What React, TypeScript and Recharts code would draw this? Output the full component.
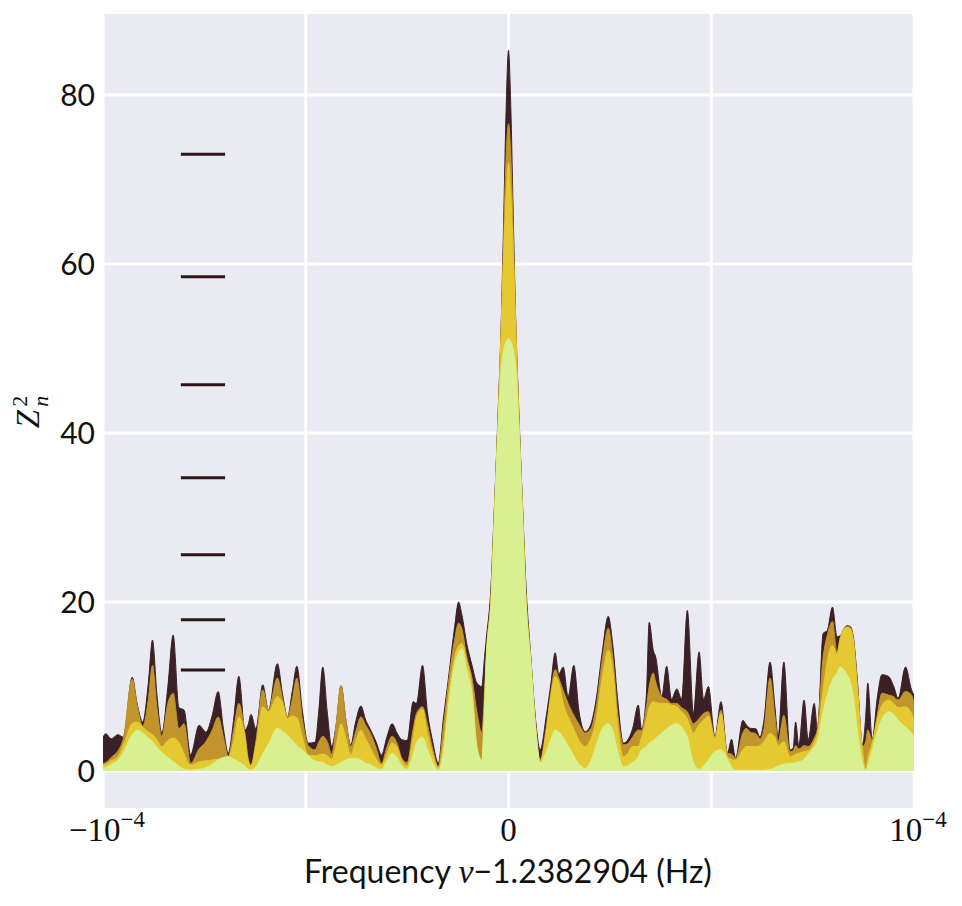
import React from "react";
import {
    AreaChart,
    Area,
    XAxis,
    YAxis,
    CartesianGrid,
    ReferenceLine,
} from "recharts";

// frequency offset from 1.2382904 Hz, in units of 1e-6 Hz
const freq = [
    -100, -99.3, -98.0, -96.3, -95.0, -92.8, -91.6, -90.2, -88.8, -87.8, -86.7, -85.5, -84.0, -82.7, -81.3,
    -80.0, -78.4, -76.3, -74.6, -73.1, -71.6, -70.3, -69.1, -67.8, -66.5, -65.0, -64.2, -63.5, -62.3, -60.6,
    -59.2, -57.0, -55.7, -54.5, -53.3, -52.2, -50.8, -49.4, -47.7, -46.8, -45.8, -44.7, -43.6, -42.5, -41.3,
    -40.1, -38.9, -37.7, -36.4, -35.2, -34.2, -32.7, -31.3, -30.0, -28.7, -27.5, -26.3, -25.0, -23.5, -22.7,
    -21.2, -20.0, -18.7, -17.3, -16.1, -14.6, -13.3, -12.3, -11.5, -10.3, -9.0, -7.8, -6.6, -5.9, -5.5,
    -4.3, -3.5, -2.6, -1.8, -1.2, -0.6, 0, 0.6, 1.2, 1.8, 2.6, 3.5, 4.3, 5.5, 6.6,
    7.8, 9.4, 10.5, 11.5, 12.4, 13.5, 14.7, 16.1, 17.4, 18.9, 20.3, 21.6, 23.1, 24.6, 25.7,
    27.0, 28.3, 29.3, 30.6, 32.0, 32.8, 34.0, 34.7, 35.7, 36.3, 37.8, 39.0, 40.2, 41.5, 42.7,
    44.1, 45.6, 47.0, 48.1, 49.3, 50.9, 52.4, 54.0, 55.0, 56.0, 57.8, 58.6, 59.6, 61.0, 62.0,
    63.0, 64.5, 65.7, 66.5, 67.9, 69.4, 70.2, 70.8, 71.6, 72.9, 73.9, 75.4, 76.2, 77.6, 78.6,
    79.9, 81.0, 81.8, 83.4, 84.3, 85.0, 86.0, 87.3, 88.1, 88.6, 89.7, 90.9, 92.1, 93.7, 95.0,
    96.1, 97.9, 99.4, 100,
];

// Z^2_n for n = 4 (dark), 3, 2, 1 (light)
const z4 = [
    4.0, 4.4, 3.8, 4.3, 4.0, 11.1, 8.0, 5.8, 10.5, 15.5, 9.0, 4.5, 10.0, 16.1, 7.5,
    7.2, 1.9, 5.4, 4.6, 6.5, 9.4, 5.0, 2.1, 6.0, 11.2, 4.85, 5.5, 6.7, 5.0, 10.2,
    7.2, 12.7, 9.0, 6.4, 9.5, 12.4, 7.0, 3.3, 3.4, 7.0, 12.3, 7.0, 2.9, 5.5, 10.1,
    6.0, 3.1, 5.8, 7.7, 6.0, 5.05, 3.5, 1.9, 4.0, 5.6, 4.5, 3.7, 3.6, 8.2, 8.0,
    12.5, 7.0, 3.5, 0.9, 6.0, 11.8, 17.0, 20.0, 18.5, 15.1, 12.5, 10.4, 10.0, 13.5, 15.5,
    22.0, 31.0, 42.0, 53.0, 65.0, 78.0, 85.3, 78.0, 65.0, 53.0, 42.0, 31.0, 22.0, 13.5, 6.5,
    2.5, 6.8, 10.5, 14.0, 11.5, 12.3, 8.8, 12.5, 7.0, 4.65, 5.5, 8.4, 14.0, 18.3, 15.0,
    8.0, 3.3, 3.6, 5.0, 7.8, 5.0, 9.0, 17.6, 14.3, 13.5, 8.8, 12.4, 8.5, 9.7, 8.5,
    19.0, 6.8, 14.1, 8.5, 10.0, 4.05, 8.2, 2.1, 3.75, 1.5, 6.0, 5.5, 5.05, 5.0, 4.0,
    6.0, 12.9, 7.6, 4.05, 12.9, 2.5, 2.7, 5.8, 3.0, 8.4, 3.7, 8.0, 5.0, 16.3, 16.6,
    19.4, 15.9, 16.0, 17.2, 17.1, 16.0, 11.0, 3.1, 6.5, 10.4, 3.7, 8.5, 11.4, 11.2, 10.0,
    8.6, 12.3, 9.6, 9.0,
];

const z3 = [
    0.9, 1.0, 1.6, 2.4, 3.8, 10.9, 7.8, 5.3, 8.5, 12.5, 7.5, 4.1, 8.0, 9.2, 5.0,
    5.6, 0.9, 2.6, 3.5, 4.8, 6.4, 4.0, 1.7, 4.8, 8.0, 4.5, 1.5, 0.7, 3.5, 9.6,
    7.2, 11.0, 8.5, 6.4, 8.5, 11.0, 6.0, 3.0, 2.5, 3.4, 4.1, 3.5, 2.0, 5.5, 10.1,
    6.0, 2.9, 4.6, 6.4, 5.4, 4.6, 2.8, 0.9, 2.8, 4.1, 3.3, 1.5, 1.0, 5.0, 6.8,
    7.6, 5.5, 2.6, 0.5, 5.0, 11.2, 15.5, 17.5, 16.8, 13.5, 11.0, 7.0, 4.5, 9.5, 13.5,
    21.0, 30.5, 41.5, 52.5, 63.0, 72.5, 76.6, 72.5, 63.0, 52.5, 41.5, 30.5, 21.0, 13.2, 6.0,
    1.3, 5.5, 9.5, 12.0, 11.0, 9.5, 8.0, 6.6, 5.5, 4.5, 5.0, 7.5, 13.0, 16.9, 13.5,
    6.5, 3.1, 3.2, 4.0, 4.85, 4.8, 7.5, 10.0, 11.6, 10.5, 8.8, 8.5, 8.0, 8.0, 7.5,
    7.0, 5.6, 6.2, 6.8, 7.0, 4.05, 7.2, 2.1, 2.0, 1.5, 4.5, 5.05, 4.6, 4.4, 3.8,
    5.0, 11.0, 6.4, 3.5, 6.6, 2.3, 2.4, 3.0, 2.6, 3.0, 2.9, 3.9, 5.0, 13.5, 16.0,
    17.7, 14.0, 15.8, 17.1, 17.0, 15.8, 10.5, 2.9, 3.5, 4.85, 3.6, 6.5, 9.2, 9.0, 8.8,
    8.4, 9.4, 9.0, 8.0,
];

const z2 = [
    0.7, 0.8, 1.2, 1.7, 3.0, 5.6, 5.8, 5.2, 4.6, 4.3, 3.7, 2.9, 3.6, 3.9, 3.4,
    2.0, 0.7, 1.1, 1.2, 1.3, 1.4, 1.5, 1.6, 3.5, 6.4, 4.0, 1.2, 0.6, 3.0, 7.6,
    7.0, 8.8, 8.0, 6.2, 6.5, 6.3, 4.0, 1.9, 1.8, 1.9, 2.0, 1.8, 1.4, 3.0, 5.6,
    3.8, 1.9, 3.5, 4.85, 3.8, 2.9, 1.5, 0.7, 2.0, 3.3, 2.8, 1.2, 0.6, 4.0, 6.3,
    7.3, 4.5, 2.0, 0.4, 3.0, 9.6, 13.5, 14.8, 15.1, 13.0, 10.0, 3.0, 1.3, 8.0, 13.2,
    20.5, 30.2, 41.0, 52.0, 61.0, 68.0, 72.0, 68.0, 61.0, 52.0, 41.0, 30.2, 20.5, 13.0, 5.7,
    1.1, 5.0, 9.0, 11.2, 10.5, 8.0, 6.4, 5.0, 3.6, 2.9, 3.8, 6.0, 11.0, 14.3, 12.0,
    5.0, 1.7, 2.0, 2.9, 2.9, 4.0, 6.0, 7.5, 8.2, 8.1, 8.0, 8.0, 7.8, 7.6, 7.0,
    6.2, 4.5, 5.5, 6.0, 6.5, 3.8, 6.8, 1.7, 1.4, 1.3, 2.5, 2.9, 2.9, 2.9, 3.0,
    3.5, 4.45, 4.0, 3.0, 3.5, 1.7, 1.8, 2.0, 2.1, 2.3, 2.4, 3.4, 4.5, 9.6, 13.0,
    14.9, 13.8, 15.6, 17.0, 16.8, 15.5, 10.0, 2.4, 0.2, 1.5, 3.3, 6.0, 7.8, 8.4, 8.0,
    7.5, 7.6, 6.8, 6.0,
];

const z1 = [
    0.3, 0.4, 0.8, 1.3, 2.2, 4.3, 4.85, 4.5, 3.9, 3.5, 2.8, 2.2, 1.6, 1.1, 0.6,
    0.2, 0.1, 0.2, 0.4, 0.8, 1.3, 1.6, 1.7, 1.4, 1.1, 0.6, 0.2, 0.1, 0.5, 2.0,
    3.2, 5.05, 4.7, 4.2, 3.6, 3.0, 2.5, 1.8, 1.2, 1.1, 1.0, 0.7, 0.5, 0.7, 1.0,
    1.3, 1.5, 1.5, 1.3, 0.9, 0.8, 0.4, 0.2, 1.2, 2.1, 1.6, 0.6, 0.2, 2.0, 3.3,
    4.0, 2.6, 1.0, 0.1, 2.0, 8.4, 12.5, 14.0, 14.5, 12.0, 9.0, 2.8, 1.2, 7.5, 12.8,
    19.9, 29.5, 40.4, 47.5, 49.8, 50.8, 51.2, 50.8, 49.8, 47.5, 40.4, 29.5, 19.9, 12.8, 5.5,
    1.0, 2.4, 3.8, 4.85, 4.6, 4.0, 3.0, 1.8, 0.8, 0.3, 1.2, 3.0, 5.0, 5.6, 4.8,
    2.2, 0.5, 0.6, 1.0, 1.7, 2.5, 2.9, 3.3, 3.6, 3.9, 4.5, 5.0, 5.4, 5.6, 5.2,
    4.0, 1.0, 0.2, 0.6, 1.3, 2.3, 2.5, 1.4, 0.5, 0.1, 0.1, 0.1, 0.1, 0.1, 0.1,
    0.1, 0.2, 0.4, 0.6, 0.8, 0.9, 0.9, 1.0, 1.1, 1.4, 2.0, 2.9, 3.5, 7.0, 9.0,
    10.8, 11.6, 12.3, 11.5, 10.5, 9.0, 5.0, 1.0, 0.1, 0.6, 2.5, 4.5, 6.2, 7.0, 6.7,
    6.0, 5.2, 4.5, 4.1,
];

// detection levels drawn as short bars on the left
const levels = [73.0, 58.5, 45.7, 34.7, 25.6, 17.9, 11.95];
const levelFrom = -80.8;
const levelTo = -69.9;

const xTicks = [-100, -50, 0, 50, 100];
const yTicks = [0, 20, 40, 60, 80];

const data = freq.map((f, i) => ({ f, z4: z4[i], z3: z3[i], z2: z2[i], z1: z1[i] }));

const colors = {
    z4: "#3b2026",
    z3: "#c1952b",
    z2: "#e4c931",
    z1: "#d8f08f",
};

const sans = "Lato, 'DejaVu Sans', sans-serif";
const serif = "'Liberation Serif', 'DejaVu Serif', serif";

const YTick = (props: any) => {
    const { x, y, payload } = props;
    return (
        <text x={x - 8} y={y + 11} textAnchor="end" fontFamily={sans} fontSize={30} fill="#111">
            {payload.value}
        </text>
    );
};

const XTick = (props: any) => {
    const { x, y, payload } = props;
    const v = payload.value;
    if (v === 0) {
        return (
            <text x={x} y={y + 33} textAnchor="middle" fontFamily={serif} fontSize={33} fill="#111">
                0
            </text>
        );
    }
    if (Math.abs(v) !== 100) return null;
    return (
        <text x={x + 4} y={y + 33} textAnchor="middle" fontFamily={serif} fontSize={33} fill="#111">
            {v < 0 ? "\u221210" : "10"}
            <tspan dy={-14} fontSize={23}>
                {"\u22124"}
            </tspan>
        </text>
    );
};

const App = () => {
    return (
        <div style={{ position: "relative", width: 954, height: 890 }}>
            <AreaChart
                width={954}
                height={890}
                data={data}
                margin={{ top: 6, right: 48, bottom: 0, left: 0 }}
            >
                <CartesianGrid
                    fill="#eaeaf2"
                    stroke="#ffffff"
                    strokeWidth={3}
                    horizontalValues={yTicks}
                    verticalValues={xTicks}
                />
                <XAxis
                    dataKey="f"
                    type="number"
                    domain={[-100, 100]}
                    ticks={xTicks}
                    allowDataOverflow
                    axisLine={false}
                    tickLine={false}
                    tickSize={0}
                    tickMargin={0}
                    height={90}
                    tick={<XTick />}
                    interval={0}
                />
                <YAxis
                    type="number"
                    domain={[-4.38, 89.59]}
                    ticks={yTicks}
                    allowDataOverflow
                    axisLine={false}
                    tickLine={false}
                    tickSize={0}
                    tickMargin={0}
                    width={95}
                    tick={<YTick />}
                    interval={0}
                />
                {(["z4", "z3", "z2", "z1"] as const).map((k) => (
                    <Area
                        key={k}
                        dataKey={k}
                        type="monotone"
                        baseValue={0}
                        fill={colors[k]}
                        fillOpacity={1}
                        stroke={colors[k]}
                        strokeWidth={1}
                        dot={false}
                        activeDot={false}
                        isAnimationActive={false}
                    />
                ))}
                {levels.map((lv) => (
                    <ReferenceLine
                        key={lv}
                        segment={[
                            { x: levelFrom, y: lv },
                            { x: levelTo, y: lv },
                        ]}
                        stroke="#2c1418"
                        strokeWidth={3}
                    />
                ))}
            </AreaChart>
            <svg
                width={954}
                height={890}
                style={{ position: "absolute", left: 0, top: 0, pointerEvents: "none" }}
            >
                <text
                    transform="translate(31,404) rotate(-90)"
                    textAnchor="middle"
                    fontFamily={serif}
                    fontSize={33}
                    fill="#111"
                >
                    <tspan fontStyle="italic">Z</tspan>
                    <tspan dy={-12} dx={3} fontSize={22}>
                        2
                    </tspan>
                    <tspan dy={21} dx={-11} fontSize={22} fontStyle="italic">
                        n
                    </tspan>
                </text>
                <text x={500} y={875} textAnchor="middle" fontFamily={sans} fontSize={32} fill="#111">
                    Frequency{" "}
                    <tspan fontFamily={serif} fontStyle="italic" fontSize={34}>
                        {"\u03bd"}
                    </tspan>
                    {"\u22121.2382904 (Hz)"}
                </text>
            </svg>
        </div>
    );
};

export default App;
